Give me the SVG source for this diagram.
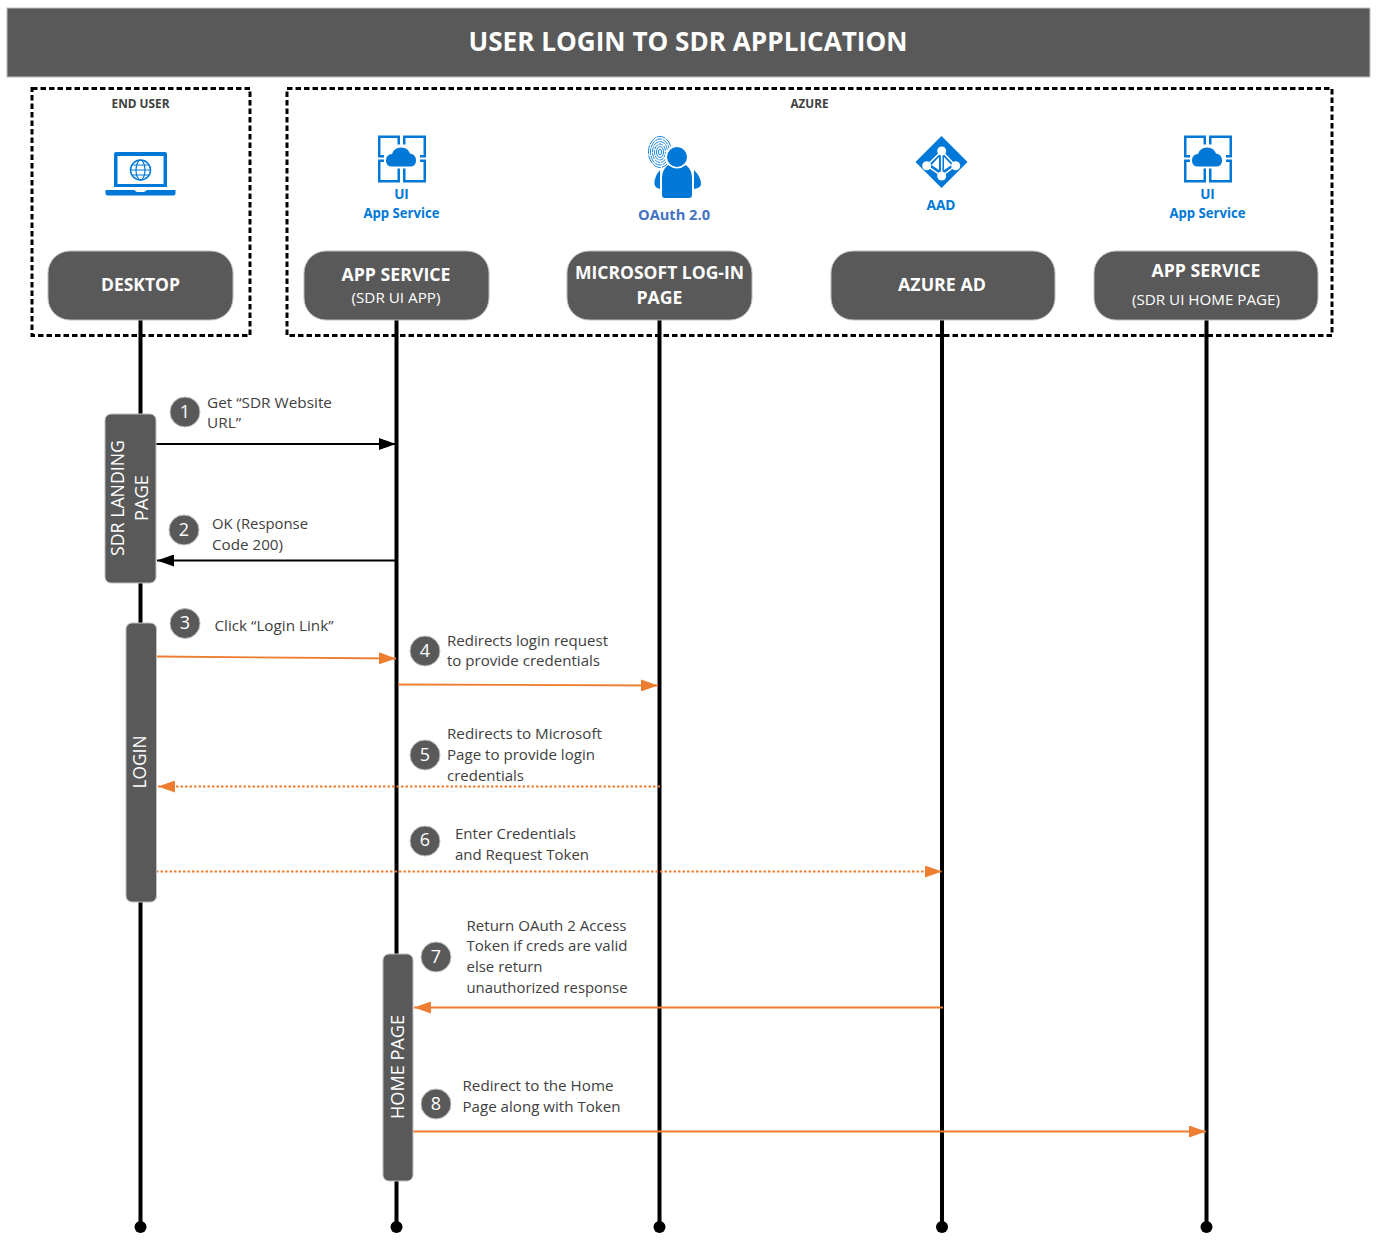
<svg xmlns="http://www.w3.org/2000/svg" xmlns:xlink="http://www.w3.org/1999/xlink" width="1377" height="1252" viewBox="0 0 1377 1252">
<style>
text{font-family:"Open Sans","Noto Sans","Liberation Sans",sans-serif}
.box{fill:#595959;stroke:#bfbfbf;stroke-width:1}
.nt{fill:#fff;font-size:18px;font-weight:700;text-anchor:middle}
.ns{fill:#fff;font-size:14.5px;text-anchor:middle}
.lbl{fill:#404040;font-size:15px}
.vt{fill:#fff;font-size:18px;text-anchor:middle}
.num{fill:#fff;font-size:18px;text-anchor:middle}
.ic{fill:#0078d7}
.blue{fill:#0078d7;font-size:13.5px;font-weight:700;text-anchor:middle}
.hd{fill:#404040;font-size:12px;font-weight:700;text-anchor:middle}
.dash{fill:none;stroke:#000;stroke-width:3;stroke-dasharray:5.500 3}
.life{stroke:#000;stroke-width:4}
.k{stroke:#000;stroke-width:1.800;fill:none}
.o{stroke:#ed7d31;stroke-width:1.800;fill:none}
.od{stroke:#ed7d31;stroke-width:1.800;fill:none;stroke-dasharray:2.500 2}
</style>
<defs>
<g id="appicon">
<g fill="none" stroke="#0078d7" stroke-width="2.500"><rect x="1.250" y="1.250" width="19.500" height="19.500"/><rect x="26.250" y="1.250" width="20.500" height="19.500"/><rect x="1.250" y="25.250" width="19.500" height="20.500"/><rect x="26.250" y="25.250" width="20.500" height="20.500"/></g>
<path d="M6 9H42V33H6Z" fill="#fff"/>
<path class="ic" d="M14 31Q8 31 8 25Q8 19 14 18.500Q16 12 23 12Q30 12 32 18Q38 19 38 25Q38 31 32 31Z"/>
</g>
<marker id="ak" markerUnits="userSpaceOnUse" markerWidth="18" markerHeight="12" refX="17" refY="6" orient="auto"><path d="M0 0L17 6L0 12Z" fill="#000"/></marker>
<marker id="ao" markerUnits="userSpaceOnUse" markerWidth="18" markerHeight="12" refX="17" refY="6" orient="auto"><path d="M0 0L17 6L0 12Z" fill="#ed7d31"/></marker>
</defs>
<rect width="1377" height="1252" fill="#fff"/>
<g id="title"><rect x="7" y="8" width="1363" height="69" class="box"/><text x="688" y="50.500" fill="#fff" font-size="27" font-weight="700" text-anchor="middle" textLength="439" lengthAdjust="spacingAndGlyphs">USER LOGIN TO SDR APPLICATION</text></g>
<g id="end-user-group"><rect x="32" y="88.500" width="218" height="247" class="dash"/><text x="140.500" y="108" class="hd" textLength="58" lengthAdjust="spacingAndGlyphs">END USER</text></g>
<g id="azure-group"><rect x="287" y="88.500" width="1045" height="247" class="dash"/><text x="809.500" y="108" class="hd" textLength="38" lengthAdjust="spacingAndGlyphs">AZURE</text></g>
<g id="connectors">
<line class="life" x1="140.500" y1="320" x2="140.500" y2="1226"/>
<line class="life" x1="396.500" y1="320" x2="396.500" y2="1226"/>
<line class="life" x1="659.500" y1="320" x2="659.500" y2="1226"/>
<line class="life" x1="942" y1="320" x2="942" y2="1226"/>
<line class="life" x1="1206.500" y1="320" x2="1206.500" y2="1226"/>
<circle cx="140.500" cy="1227" r="6"/><circle cx="396.500" cy="1227" r="6"/><circle cx="659.500" cy="1227" r="6"/><circle cx="942" cy="1227" r="6"/><circle cx="1206.500" cy="1227" r="6"/>
<line class="k" x1="156" y1="444" x2="396" y2="444" marker-end="url(#ak)"/>
<line class="k" x1="396" y1="560.500" x2="157" y2="560.500" marker-end="url(#ak)"/>
<line class="o" x1="156" y1="656.500" x2="396" y2="658.500" marker-end="url(#ao)"/>
<line class="o" x1="398" y1="684.500" x2="658" y2="685.500" marker-end="url(#ao)"/>
<line class="od" x1="660" y1="786.500" x2="158" y2="786.500" marker-end="url(#ao)"/>
<line class="od" x1="156" y1="871.500" x2="942" y2="871.500" marker-end="url(#ao)"/>
<line class="o" x1="943" y1="1007.500" x2="414" y2="1007.500" marker-end="url(#ao)"/>
<line class="o" x1="413" y1="1131.500" x2="1206" y2="1131.500" marker-end="url(#ao)"/>
</g>
<g id="desktop"><rect x="48" y="251" width="185" height="69" rx="22" class="box"/><text x="140.500" y="291" class="nt" textLength="79" lengthAdjust="spacingAndGlyphs">DESKTOP</text>
<path class="ic" d="M116 152H165Q167 152 167 154V187H114V154Q114 152 116 152Z"/><path fill="#fff" d="M117.500 156H163.500V184H117.500Z"/>
<circle cx="140.500" cy="170" r="10" fill="none" stroke="#0078d7" stroke-width="1.500"/><ellipse cx="140.500" cy="170" rx="4.500" ry="10" fill="none" stroke="#0078d7" stroke-width="1.200"/><path d="M130.500 170H150.500M132 165H149M132 175H149" stroke="#0078d7" stroke-width="1.100"/>
<path class="ic" d="M105.500 190H134L137 192H144L147 190H175.500V193.500Q175.500 195.500 173.500 195.500H107.500Q105.500 195.500 105.500 193.500Z"/></g>
<g id="app-service-ui"><rect x="304" y="251" width="185" height="69" rx="22" class="box"/><text x="396" y="281" class="nt" textLength="109" lengthAdjust="spacingAndGlyphs">APP SERVICE</text><text x="396" y="303" class="ns" textLength="89" lengthAdjust="spacingAndGlyphs">(SDR UI APP)</text>
<use xlink:href="#appicon" x="378" y="135.500"/><text x="401.500" y="198.500" class="blue">UI</text><text x="401.500" y="218" class="blue" textLength="76" lengthAdjust="spacingAndGlyphs">App Service</text></g>
<g id="microsoft-login"><rect x="567" y="251" width="185" height="69" rx="22" class="box"/><text x="659.500" y="279" class="nt" textLength="169" lengthAdjust="spacingAndGlyphs">MICROSOFT LOG-IN</text><text x="659.500" y="304" class="nt" textLength="46" lengthAdjust="spacingAndGlyphs">PAGE</text>
<g fill="none" stroke="#0078d7" stroke-width="0.900"><ellipse cx="660" cy="152" rx="11.500" ry="15.500" stroke-dasharray="9 1"/><ellipse cx="660" cy="152" rx="9.500" ry="13" stroke-dasharray="7 1"/><ellipse cx="660" cy="152" rx="7.500" ry="10.500" stroke-dasharray="6 1"/><ellipse cx="660" cy="152" rx="5.500" ry="8" stroke-dasharray="5 1"/><ellipse cx="660" cy="152" rx="3.500" ry="5.500"/><ellipse cx="660" cy="152" rx="1.500" ry="3"/></g>
<circle cx="677" cy="157" r="12" fill="#fff"/><path d="M660 200V170H695V200Z" fill="#fff"/><circle cx="677" cy="157" r="10" class="ic"/>
<path class="ic" d="M662 195V178Q662 170 668 165Q677 172 686 165Q692 170 692 178V195Q692 198 689 198H665Q662 198 662 195Z"/>
<path class="ic" d="M660 170Q654 177 654.500 184Q655 188 660 189ZM694 170Q701 177 701 184Q701 188 694 189Z"/>
<text x="674" y="219.500" fill="#4472c4" font-size="14.500" font-weight="700" text-anchor="middle" textLength="72" lengthAdjust="spacingAndGlyphs">OAuth 2.0</text></g>
<g id="azure-ad"><rect x="831" y="251" width="224" height="69" rx="22" class="box"/><text x="942" y="291" class="nt" textLength="88" lengthAdjust="spacingAndGlyphs">AZURE AD</text>
<path class="ic" d="M941.500 136L967.500 162L941.500 188L915.500 162Z"/>
<path d="M941.700 151L926.700 165.700L941.700 176L955.700 165.700Z M941.700 151V176" fill="none" stroke="#fff" stroke-width="1.500"/>
<path d="M939 157V170L931.500 165ZM944 157V170L951.500 165Z" fill="#fff"/>
<circle cx="941.700" cy="151" r="4.500" fill="#fff"/><circle cx="926.700" cy="165.700" r="4.500" fill="#fff"/><circle cx="955.700" cy="165.700" r="4.500" fill="#fff"/><circle cx="941.700" cy="176" r="4.500" fill="#fff"/>
<text x="941" y="210" class="blue" textLength="29" lengthAdjust="spacingAndGlyphs">AAD</text></g>
<g id="app-service-home"><rect x="1094" y="251" width="224" height="69" rx="22" class="box"/><text x="1206" y="277" class="nt" textLength="109" lengthAdjust="spacingAndGlyphs">APP SERVICE</text><text x="1206" y="305" class="ns" textLength="148" lengthAdjust="spacingAndGlyphs">(SDR UI HOME PAGE)</text>
<use xlink:href="#appicon" x="1184" y="135.500"/><text x="1207.500" y="198.500" class="blue">UI</text><text x="1207.500" y="218" class="blue" textLength="76" lengthAdjust="spacingAndGlyphs">App Service</text></g>
<g id="sdr-landing-page"><rect x="105" y="414" width="51" height="169" rx="6" class="box"/><text transform="translate(123.500,498) rotate(-90)" class="vt" textLength="116" lengthAdjust="spacingAndGlyphs">SDR LANDING</text><text transform="translate(148,498) rotate(-90)" class="vt" textLength="46" lengthAdjust="spacingAndGlyphs">PAGE</text></g>
<g id="login"><rect x="126" y="623" width="30.500" height="279" rx="6" class="box"/><text transform="translate(146,762) rotate(-90)" class="vt" textLength="53" lengthAdjust="spacingAndGlyphs">LOGIN</text></g>
<g id="home-page"><rect x="383" y="954" width="30" height="227" rx="6" class="box"/><text transform="translate(403.500,1067) rotate(-90)" class="vt" textLength="104" lengthAdjust="spacingAndGlyphs">HOME PAGE</text></g>
<g id="steps">
<g id="step1"><circle cx="185" cy="412" r="15" class="box"/><text x="185" y="417.500" class="num">1</text><text x="207" y="408" class="lbl" textLength="125" lengthAdjust="spacingAndGlyphs">Get “SDR Website</text><text x="207" y="428" class="lbl" textLength="34" lengthAdjust="spacingAndGlyphs">URL”</text></g>
<g id="step2"><circle cx="184" cy="530" r="15" class="box"/><text x="184" y="535.500" class="num">2</text><text x="212" y="529" class="lbl" textLength="96" lengthAdjust="spacingAndGlyphs">OK (Response</text><text x="212" y="550" class="lbl" textLength="71" lengthAdjust="spacingAndGlyphs">Code 200)</text></g>
<g id="step3"><circle cx="185" cy="623.500" r="15" class="box"/><text x="185" y="629" class="num">3</text><text x="214.500" y="631" class="lbl" textLength="119" lengthAdjust="spacingAndGlyphs">Click “Login Link”</text></g>
<g id="step4"><circle cx="425" cy="651" r="15" class="box"/><text x="425" y="656.500" class="num">4</text><text x="447" y="646" class="lbl" textLength="161" lengthAdjust="spacingAndGlyphs">Redirects login request</text><text x="447" y="666" class="lbl" textLength="153" lengthAdjust="spacingAndGlyphs">to provide credentials</text></g>
<g id="step5"><circle cx="425" cy="755" r="15" class="box"/><text x="425" y="760.500" class="num">5</text><text x="447" y="739" class="lbl" textLength="155" lengthAdjust="spacingAndGlyphs">Redirects to Microsoft</text><text x="447" y="760" class="lbl" textLength="148" lengthAdjust="spacingAndGlyphs">Page to provide login</text><text x="447" y="781" class="lbl" textLength="77" lengthAdjust="spacingAndGlyphs">credentials</text></g>
<g id="step6"><circle cx="425" cy="841" r="15" class="box"/><text x="425" y="846" class="num">6</text><text x="455" y="839" class="lbl" textLength="121" lengthAdjust="spacingAndGlyphs">Enter Credentials</text><text x="455" y="860" class="lbl" textLength="134" lengthAdjust="spacingAndGlyphs">and Request Token</text></g>
<g id="step7"><circle cx="436" cy="957" r="15" class="box"/><text x="436" y="962.500" class="num">7</text><text x="466.500" y="931" class="lbl" textLength="160" lengthAdjust="spacingAndGlyphs">Return OAuth 2 Access</text><text x="466.500" y="951" class="lbl" textLength="161" lengthAdjust="spacingAndGlyphs">Token if creds are valid</text><text x="466.500" y="972" class="lbl" textLength="76" lengthAdjust="spacingAndGlyphs">else return</text><text x="466.500" y="993" class="lbl" textLength="161" lengthAdjust="spacingAndGlyphs">unauthorized response</text></g>
<g id="step8"><circle cx="436" cy="1104" r="15" class="box"/><text x="436" y="1109.500" class="num">8</text><text x="462.500" y="1091" class="lbl" textLength="151" lengthAdjust="spacingAndGlyphs">Redirect to the Home</text><text x="462.500" y="1112" class="lbl" textLength="158" lengthAdjust="spacingAndGlyphs">Page along with Token</text></g>
</g>
</svg>
